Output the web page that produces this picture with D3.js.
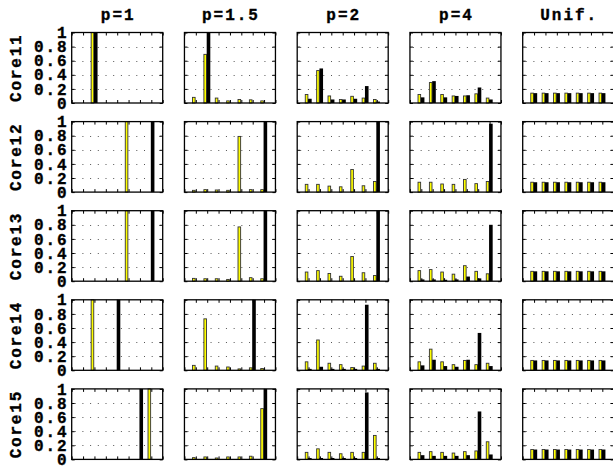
<!DOCTYPE html>
<html><head><meta charset="utf-8">
<script src="https://cdn.jsdelivr.net/npm/d3@7"></script>
<style>
html,body{margin:0;padding:0;background:#fff;}
svg{display:block;}
text{font-family:"Liberation Mono","DejaVu Sans Mono",monospace;font-weight:bold;fill:#000;stroke:#000;stroke-width:0.35px;}
</style></head>
<body>
<script>
// ---- data ----
const categories = [1,2,3,4,5,6,7];
const colTitles = ["p=1","p=1.5","p=2","p=4","Unif."];
const rowLabels = ["Core11","Core12","Core13","Core14","Core15"];
const yTicks = [0,0.2,0.4,0.6,0.8,1];
const U = 0.14;
// yellow series per row: [p=1, p=1.5, p=2, p=4, Unif.]
const yellowCore11 = [
  [0,1,0,0,0,0,0],
  [0.08,0.69,0.07,0.03,0.05,0.045,0.03],
  [0.12,0.46,0.10,0.05,0.095,0.07,0.05],
  [0.12,0.29,0.12,0.10,0.10,0.13,0.07],
  [U,U,U,U,U,U,U]];
const blackCore11 = [
  [0,1,0,0,0,0,0],
  [0,1,0,0,0,0,0],
  [0.06,0.49,0.05,0.05,0.06,0.24,0.02],
  [0.08,0.31,0.08,0.10,0.11,0.22,0.05],
  [U,U,U,U,U,U,U]];
const yellowCore12 = [
  [0,0,0,0,1,0,0],
  [0.025,0.035,0.03,0.025,0.79,0.035,0.035],
  [0.11,0.11,0.085,0.075,0.32,0.09,0.15],
  [0.14,0.14,0.115,0.11,0.18,0.12,0.15],
  [U,U,U,U,U,U,U]];
const blackCore12 = [
  [0,0,0,0,0,0,1],
  [0,0,0,0,0,0,1],
  [0,0,0,0,0,0,1],
  [0,0,0,0,0.01,0,0.97],
  [U,U,U,U,U,U,U]];
const yellowCore13 = [
  [0,0,0,0,1,0,0],
  [0.04,0.035,0.035,0.025,0.77,0.05,0.035],
  [0.13,0.15,0.11,0.07,0.35,0.12,0.08],
  [0.15,0.165,0.13,0.10,0.22,0.14,0.105],
  [U,U,U,U,U,U,U]];
const blackCore13 = [
  [0,0,0,0,0,0,1],
  [0,0,0,0,0,0,1],
  [0,0,0,0,0,0,1],
  [0.025,0.025,0.02,0.025,0.066,0.04,0.8],
  [U,U,U,U,U,U,U]];
const yellowCore14 = [
  [0,1,0,0,0,0,0],
  [0.07,0.73,0.06,0.047,0.02,0.035,0.025],
  [0.12,0.43,0.10,0.08,0.04,0.06,0.10],
  [0.12,0.30,0.12,0.08,0.14,0.08,0.10],
  [U,U,U,U,U,U,U]];
const blackCore14 = [
  [0,0,0,1,0,0,0],
  [0,0,0,0,0,1,0],
  [0.02,0.05,0.02,0.02,0.02,0.93,0.02],
  [0.07,0.15,0.06,0.05,0.15,0.53,0.06],
  [U,U,U,U,U,U,U]];
const yellowCore15 = [
  [0,0,0,0,0,0,1],
  [0.025,0.035,0.02,0.035,0.035,0.045,0.72],
  [0.10,0.15,0.10,0.08,0.10,0.10,0.34],
  [0.10,0.11,0.10,0.09,0.11,0.12,0.25],
  [U,U,U,U,U,U,U]];
const blackCore15 = [
  [0,0,0,0,0,1,0],
  [0,0,0,0,0,0,1],
  [0.02,0.02,0.02,0.02,0.02,0.95,0.02],
  [0.06,0.05,0.05,0.05,0.06,0.68,0.07],
  [U,U,U,U,U,U,U]];

const yellowRows = [yellowCore11,yellowCore12,yellowCore13,yellowCore14,yellowCore15];
const blackRows = [blackCore11,blackCore12,blackCore13,blackCore14,blackCore15];

// ---- layout ----
const W = 613, H = 468;
const panelLeft0 = 71.7, panelStepX = 112.75, panelW = 91;
const panelTop0 = 32.5, panelStepY = 89.1, panelH = 70.5;

const svg = d3.select("body").append("svg").attr("width", W).attr("height", H);

colTitles.forEach((t, c) => {
  const cx = panelLeft0 + c*panelStepX + panelW/2;
  svg.append("text").attr("x", cx + 1).attr("y", 20)
    .attr("text-anchor","middle").style("font-size","16px").style("letter-spacing","2px")
    .text(t);
});

rowLabels.forEach((lab, r) => {
  const cy = panelTop0 + r*panelStepY + panelH/2;
  svg.append("text").attr("transform", `translate(21,${cy}) rotate(-90)`)
    .attr("text-anchor","middle").style("font-size","16px").style("letter-spacing","1.8px")
    .text(lab);
});

for (let r = 0; r < 5; r++) {
  for (let c = 0; c < 5; c++) {
    const left = panelLeft0 + c*panelStepX, top = panelTop0 + r*panelStepY;
    const x = d3.scaleLinear().domain([0, 8]).range([left, left + panelW]);
    const y = d3.scaleLinear().domain([0, 1]).range([top + panelH, top]);
    const g = svg.append("g");

    // dotted grid
    g.selectAll("line.grid").data(yTicks.filter(v => v > 0 && v < 1)).join("line")
      .attr("x1", x(0) + 3).attr("x2", x(8) - 1)
      .attr("y1", d => Math.round(y(d)) + 0.5).attr("y2", d => Math.round(y(d)) + 0.5)
      .attr("stroke", "#555").attr("stroke-width", 1).attr("stroke-dasharray", "1,6.7");

    const yv = yellowRows[r][c], bv = blackRows[r][c];
    // yellow bars
    g.selectAll("rect.y").data(categories.map((k, i) => ({k, v: yv[i]})).filter(d => d.v > 0)).join("rect")
      .attr("x", d => x(d.k) - 3.3).attr("width", 2.6)
      .attr("y", d => y(d.v)).attr("height", d => y(0) - y(d.v))
      .attr("fill", "#ffff00").attr("stroke", "#333").attr("stroke-width", 0.9);
    // black bars
    g.selectAll("rect.b").data(categories.map((k, i) => ({k, v: bv[i]})).filter(d => d.v > 0)).join("rect")
      .attr("x", d => x(d.k) - 0.5).attr("width", 3.6)
      .attr("y", d => y(d.v)).attr("height", d => y(0) - y(d.v))
      .attr("fill", "#000");

    // inward ticks
    const tickStyle = sel => { sel.select(".domain").remove(); sel.selectAll("text").remove();
      sel.selectAll("line").attr("stroke","#000").attr("stroke-width",1); };
    g.append("g").attr("transform", `translate(${left},0)`)
      .call(d3.axisLeft(y).tickValues(yTicks).tickSize(-3)).call(tickStyle);
    g.append("g").attr("transform", `translate(${left+panelW},0)`)
      .call(d3.axisRight(y).tickValues(yTicks).tickSize(-3)).call(tickStyle);
    g.append("g").attr("transform", `translate(0,${top})`)
      .call(d3.axisTop(x).ticks(8).tickSize(-3)).call(tickStyle);
    g.append("g").attr("transform", `translate(0,${top+panelH})`)
      .call(d3.axisBottom(x).ticks(8).tickSize(-3)).call(tickStyle);

    // border
    g.append("rect").attr("x", left).attr("y", top).attr("width", panelW).attr("height", panelH)
      .attr("fill", "none").attr("stroke", "#000").attr("stroke-width", 1.3);

    // y-axis labels in first column
    if (c === 0) {
      const ax = g.append("g").attr("transform", `translate(${left - 5},0)`)
        .call(d3.axisLeft(y).tickValues(yTicks).tickSize(0).tickPadding(0).tickFormat(d3.format("")));
      ax.select(".domain").remove();
      ax.selectAll("text").style("font-size","16px").style("letter-spacing","2px")
        .style("font-family",'"Liberation Mono",monospace').style("font-weight","bold")
        .attr("dx","2px").attr("fill","#000").attr("stroke","#000").attr("stroke-width",0.35);
    }
  }
}
</script>
</body></html>
